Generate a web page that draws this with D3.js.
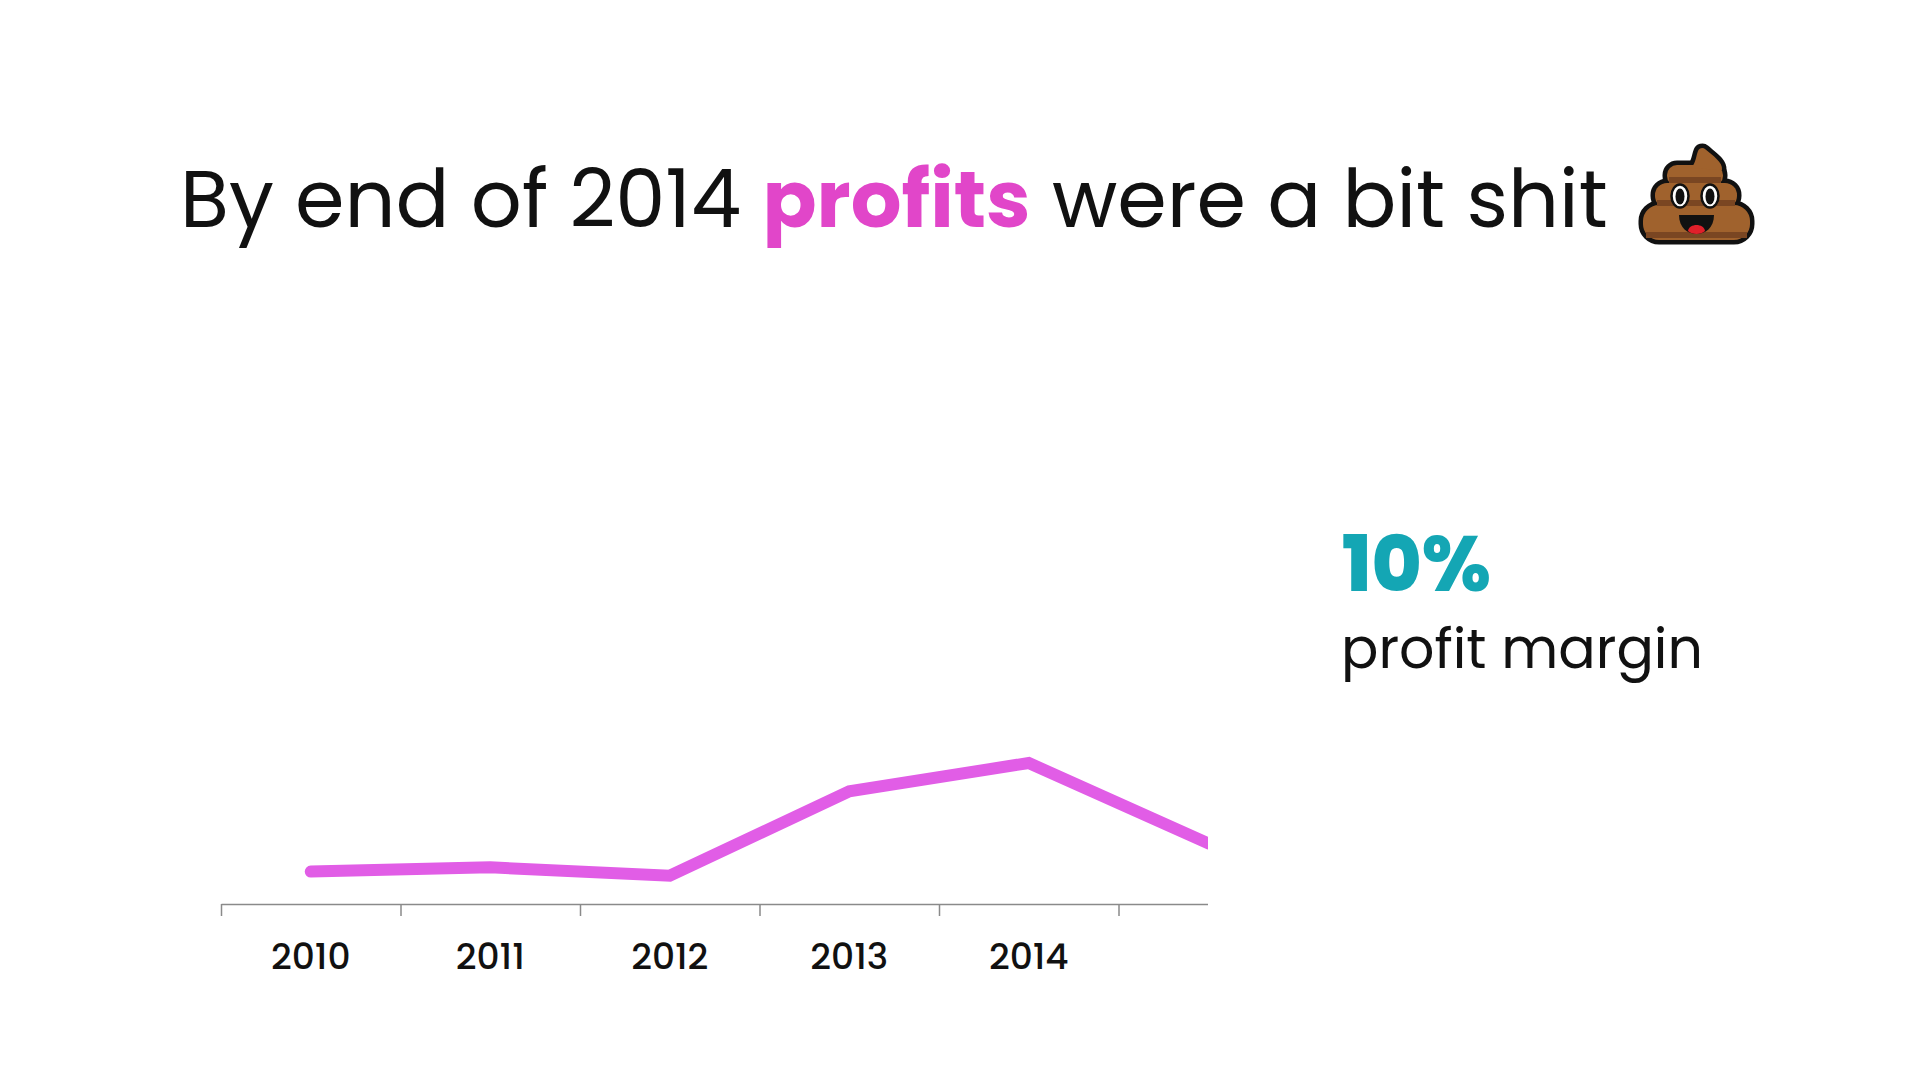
<!DOCTYPE html>
<html>
<head>
<meta charset="utf-8">
<script src="https://cdn.jsdelivr.net/npm/d3@7"></script>
<style>
    html, body { margin: 0; padding: 0; background: #ffffff; }
    svg { display: block; font-family: Poppins, Inter, "Open Sans", sans-serif; }
</style>
</head>
<body>
<svg id="chart" width="1920" height="1080"></svg>
<script>
// data
var years = ['2010', '2011', '2012', '2013', '2014', '2015'],
    tickLabels = ['2010', '2011', '2012', '2013', '2014'],
    profitMargin = [2.3, 2.6, 2.0, 8.0, 10.0, 4.3];

var titleParts = [
    { text: 'By end of 2014 ', color: '#111111', weight: 400 },
    { text: 'profits', color: '#e146c9', weight: 700 },
    { text: ' were a bit shit', color: '#111111', weight: 400 }
];

var calloutValue = '10%',
    calloutLabel = 'profit margin';

var svg = d3.select('#chart');

// shrink / grow a text node until it spans the wanted width
function fitWidth(node, target) {
    var size = parseFloat(node.getAttribute('font-size')),
        len = node.getComputedTextLength();
    node.setAttribute('font-size', (size * target / len).toFixed(2));
}

// title
var title = svg.append('text')
    .attr('x', 180)
    .attr('y', 227)
    .attr('font-size', 88);

title.selectAll('tspan')
        .data(titleParts)
    .enter()
        .append('tspan')
        .attr('fill', function(d) { return d.color; })
        .attr('font-weight', function(d) { return d.weight; })
        .style('white-space', 'pre')
        .text(function(d) { return d.text; });

fitWidth(title.node(), 1428);

// the emoji is drawn by hand, no colour emoji font in here
var poo = svg.append('g').attr('transform', 'translate(1643 148)');
var tiers = [
    { x: 0, y: 57, w: 107, h: 35, r: 16 },
    { x: 12, y: 35, w: 82, h: 25, r: 12 },
    { x: 24, y: 17, w: 56, h: 21, r: 10 }
];
var tipPath = 'M48,20 C53,15 53,8 55,3 C56,0 60,-1 62,1 C70,8 80,14 79,22 Z';

function drawTiers(cls, fill, stroke) {
    poo.selectAll('rect.' + cls)
            .data(tiers)
        .enter()
            .append('rect')
            .attr('class', cls)
            .attr('x', function(d) { return d.x; })
            .attr('y', function(d) { return d.y; })
            .attr('width', function(d) { return d.w; })
            .attr('height', function(d) { return d.h; })
            .attr('rx', function(d) { return d.r; })
            .attr('fill', fill)
            .attr('stroke', stroke)
            .attr('stroke-width', stroke === 'none' ? 0 : 9);
    poo.append('path').attr('d', tipPath)
        .attr('fill', fill)
        .attr('stroke', stroke)
        .attr('stroke-width', stroke === 'none' ? 0 : 9)
        .attr('stroke-linejoin', 'round');
}

drawTiers('outline', '#111', '#111');
drawTiers('fill', '#a0622d', 'none');

// darker bands across the tiers
var stripes = [
    { x: 26, y: 29, w: 52 },
    { x: 14, y: 52, w: 78 },
    { x: 3, y: 84, w: 101 }
];
poo.selectAll('rect.stripe')
        .data(stripes)
    .enter()
        .append('rect')
        .attr('class', 'stripe')
        .attr('x', function(d) { return d.x; })
        .attr('y', function(d) { return d.y; })
        .attr('width', function(d) { return d.w; })
        .attr('height', 6)
        .attr('fill', '#7a4622');

[37, 67].forEach(function(cx) {
    poo.append('ellipse').attr('cx', cx).attr('cy', 48).attr('rx', 8.5).attr('ry', 11.5)
        .attr('fill', '#fff').attr('stroke', '#111').attr('stroke-width', 2.5);
    poo.append('ellipse').attr('cx', cx).attr('cy', 48.5).attr('rx', 4.5).attr('ry', 8)
        .attr('fill', '#111');
});
poo.append('path')
    .attr('d', 'M36,67 L71,67 C71,80 62,86 53.5,86 C45,86 36,80 36,67 Z')
    .attr('fill', '#111');
poo.append('path')
    .attr('d', 'M45,83 C46,75 61,75 62,83 C58,87 49,87 45,83 Z')
    .attr('fill', '#e0202a');

// callout
var calloutNum = svg.append('text')
    .attr('x', 1342)
    .attr('y', 591)
    .attr('font-size', 78)
    .attr('font-weight', 800)
    .attr('fill', '#14a6b4')
    .text(calloutValue);
fitWidth(calloutNum.node(), 149);

var calloutText = svg.append('text')
    .attr('x', 1341)
    .attr('y', 668)
    .attr('font-size', 56)
    .attr('fill', '#111111')
    .text(calloutLabel);
fitWidth(calloutText.node(), 362);

// chart
var left = 221,
    step = 179.5,
    axisY = 904,
    clipRight = 1208;

var x = d3.scaleBand()
    .domain(years)
    .range([left, left + step * years.length]);

var xEdge = d3.scaleLinear()
    .domain([0, years.length])
    .range([left, left + step * years.length]);

var y = d3.scaleLinear()
    .domain([0, 10])
    .range([axisY, 763]);

svg.append('clipPath')
    .attr('id', 'plot-clip')
    .append('rect')
    .attr('x', 0)
    .attr('y', 0)
    .attr('width', clipRight)
    .attr('height', 1080);

var plot = svg.append('g').attr('clip-path', 'url(#plot-clip)');

var edgeAxis = plot.append('g')
    .attr('transform', 'translate(0,' + axisY + ')')
    .call(d3.axisBottom(xEdge)
        .tickValues(d3.range(years.length))
        .tickSize(12)
        .tickSizeOuter(0)
        .tickFormat(''));

edgeAxis.selectAll('path, line')
    .attr('stroke', '#8a8a8a')
    .attr('stroke-width', 1.5);

var labelAxis = plot.append('g')
    .attr('transform', 'translate(0,' + axisY + ')')
    .call(d3.axisBottom(x)
        .tickValues(tickLabels)
        .tickSize(0)
        .tickPadding(0));

labelAxis.select('.domain').remove();
labelAxis.selectAll('text')
    .attr('y', 65)
    .attr('dy', null)
    .attr('fill', '#111111')
    .attr('font-size', 36)
    .attr('font-weight', 500)
    .attr('font-family', 'Poppins, Inter, sans-serif');

var line = d3.line()
    .x(function(d, i) { return x(years[i]) + x.bandwidth() / 2; })
    .y(function(d) { return y(d); });

plot.append('path')
    .datum(profitMargin)
    .attr('d', line)
    .attr('fill', 'none')
    .attr('stroke', '#e15de6')
    .attr('stroke-width', 12)
    .attr('stroke-linecap', 'round')
    .attr('stroke-linejoin', 'miter');
</script>
</body>
</html>
